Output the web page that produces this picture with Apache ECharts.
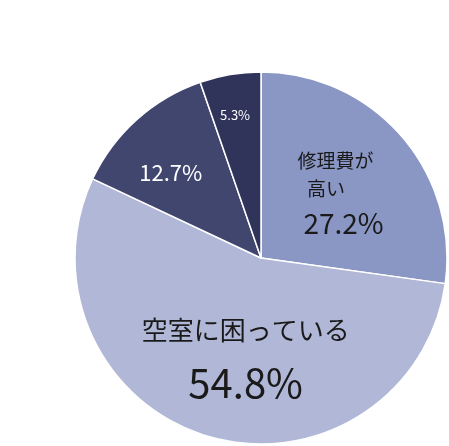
<!DOCTYPE html><html><head><meta charset="utf-8">
<script src="https://cdn.jsdelivr.net/npm/echarts@6/dist/echarts.min.js"></script>
<style>html,body{margin:0;background:#fff}#c{width:449px;height:446px}</style></head><body><div id="c"></div>
<script>
const categories=['修理費が高い','空室に困っている','other1','other2'];
const values=[27.2,54.8,12.7,5.3];
const colors=['#8a96c3','#b1b7d6','#41466f','#30345a'];
const chart=echarts.init(document.getElementById('c'));
const F='"Noto Sans CJK JP","Noto Sans",sans-serif';
const labels=[
 {formatter:'{a|修理費が}\n{a|高い}       \n      {b|{c}%}',offset:[2,0],rich:{a:{fontSize:19,color:'#1a1a1a',lineHeight:28,fontFamily:F},b:{fontSize:28,color:'#1a1a1a',lineHeight:40,fontFamily:F}}},
 {formatter:'{a|空室に困っている}\n{b|{c}%}',offset:[12,8],rich:{a:{fontSize:26,color:'#1a1a1a',lineHeight:50,fontFamily:F},b:{fontSize:40,color:'#1a1a1a',lineHeight:56,fontFamily:F}}},
 {formatter:'{c}%',offset:[-26,-14],fontSize:22,color:'#fff',fontFamily:F},
 {formatter:'{c}%',offset:[-10,-48],fontSize:13,color:'#fff',fontFamily:F}
];
chart.setOption({series:[{type:'pie',center:[261,258],radius:[0,186],startAngle:90,clockwise:true,
 itemStyle:{borderColor:'#fff',borderWidth:1.5},labelLine:{show:false},
 label:{show:true,position:'inside',fontFamily:F},
 data:values.map((v,i)=>({name:categories[i],value:v,itemStyle:{color:colors[i]},label:Object.assign({show:true,position:'inside'},labels[i])}))}]});
</script></body></html>
